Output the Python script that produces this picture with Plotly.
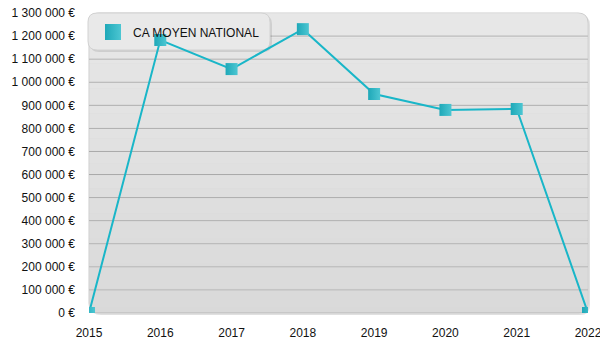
import plotly.graph_objects as go

years = [2015, 2016, 2017, 2018, 2019, 2020, 2021, 2022]
ca_moyen = [0, 1183000, 1057000, 1230000, 949000, 880000, 884000, 0]
series_name = "CA MOYEN NATIONAL"
y_ticks = list(range(0, 1300001, 100000))
y_ticktext = ["{:,}".format(v).replace(",", " ") + " €" for v in y_ticks]

LINE = "#19b6c8"
MARK = "#1ea8b8"
MARK2 = "#4cc6d2"

fig = go.Figure()

fig.add_trace(go.Scatter(
    x=years, y=ca_moyen, mode="lines+markers", showlegend=False,
    line=dict(color=LINE, width=2),
    marker=dict(symbol="square", size=12, color=MARK,
                gradient=dict(type="horizontal", color=MARK2),
                line=dict(width=0)),
    cliponaxis=True,
))
fig.add_trace(go.Scatter(
    x=[None], y=[None], mode="markers", name=series_name,
    marker=dict(symbol="square", size=18, color=MARK,
                gradient=dict(type="horizontal", color=MARK2),
                line=dict(width=0)),
))

PW, PH = 499, 300
rx, ry = 10 / PW, 10 / PH
def rounded(x0, y0, x1, y1, tl=True, tr=True, bl=True, br=True, kx=rx, ky=ry):
    p = f"M {x0 + (kx if bl else 0)},{y0} "
    p += f"L {x1 - (kx if br else 0)},{y0} "
    p += f"Q {x1},{y0} {x1},{y0 + ky} " if br else ""
    p += f"L {x1},{y1 - (ky if tr else 0)} "
    p += f"Q {x1},{y1} {x1 - kx},{y1} " if tr else ""
    p += f"L {x0 + (kx if tl else 0)},{y1} "
    p += f"Q {x0},{y1} {x0},{y1 - ky} " if tl else ""
    p += f"L {x0},{y0 + (ky if bl else 0)} "
    p += f"Q {x0},{y0} {x0 + kx},{y0} " if bl else ""
    return p + "Z"

shapes = [
    dict(type="path", xref="paper", yref="paper", layer="below",
         path=rounded(0 + 2 / PW, 0 - 2 / PH, 1 + 2 / PW, 1 - 2 / PH),
         fillcolor="rgba(0,0,0,0.12)", line=dict(width=0)),
    dict(type="path", xref="paper", yref="paper", layer="below",
         path=rounded(0, 0, 1, 1), fillcolor="#d9d9d9",
         line=dict(width=1, color="#cdcdcd")),
]
nb = 12
for i in range(nb):
    y1 = (i + 1) / nb
    c = int(0xd9 + (0xe7 - 0xd9) * (i + 1) / nb)
    col = f"#{c:02x}{c:02x}{c:02x}"
    shapes.append(dict(type="path", xref="paper", yref="paper", layer="below",
                       path=rounded(0.001, (i / nb) if i else 0.02, 0.999, y1 - 0.001,
                                    tl=(i == nb - 1), tr=(i == nb - 1), bl=False, br=False),
                       fillcolor=col, line=dict(width=0)))
for v in y_ticks[:-1]:
    shapes.append(dict(type="line", xref="paper", yref="y", layer="below",
                       x0=0, x1=1, y0=v, y1=v, y0shift=-1, y1shift=-1,
                       line=dict(color="rgba(255,255,255,0.85)", width=1)))
    shapes.append(dict(type="line", xref="paper", yref="y", layer="below",
                       x0=0, x1=1, y0=v, y1=v,
                       line=dict(color="#a8a8a8", width=1)))
# legend box (behind the line, as in the original)
lx0, lx1, ly0, ly1 = (88 - 89) / PW, (270 - 89) / PW, (313 - 50) / PH, (313 - 13) / PH
shapes.append(dict(type="path", xref="paper", yref="paper", layer="below",
                   path=rounded(lx0 + 2 / PW, ly0 - 2 / PH, lx1 + 2 / PW, ly1 - 2 / PH,
                                kx=9 / PW, ky=9 / PH),
                   fillcolor="rgba(0,0,0,0.10)", line=dict(width=0)))
shapes.append(dict(type="path", xref="paper", yref="paper", layer="below",
                   path=rounded(lx0, ly0, lx1, ly1, kx=9 / PW, ky=9 / PH),
                   fillcolor="#e9e9e9", line=dict(width=1, color="#d2d2d2")))

fig.update_layout(
    template="none",
    width=600, height=350,
    margin=dict(l=89, r=12, t=13, b=37, autoexpand=False),
    paper_bgcolor="white", plot_bgcolor="rgba(0,0,0,0)",
    font=dict(family="Arial, Liberation Sans", size=12, color="#111"),
    shapes=shapes,
    showlegend=True,
    legend=dict(x=(93 - 89) / PW, y=(313 - 32) / PH, xanchor="left", yanchor="middle",
                bgcolor="rgba(0,0,0,0)", borderwidth=0,
                font=dict(family="Arial, Liberation Sans", size=12, color="#111"),
                itemsizing="trace"),
    xaxis=dict(range=[2015, 2022], tickmode="array", tickvals=years,
               showgrid=False, zeroline=False, showline=False, ticks="",
               ticklabelstandoff=11, ticklabeloverflow="allow", automargin=False),
    yaxis=dict(range=[0, 1300000], tickmode="array", tickvals=y_ticks,
               ticktext=y_ticktext,
               showgrid=False, zeroline=False, showline=False, ticks="",
               ticklabelstandoff=13, ticklabeloverflow="allow", automargin=False),
)

fig.write_html("out.html")
